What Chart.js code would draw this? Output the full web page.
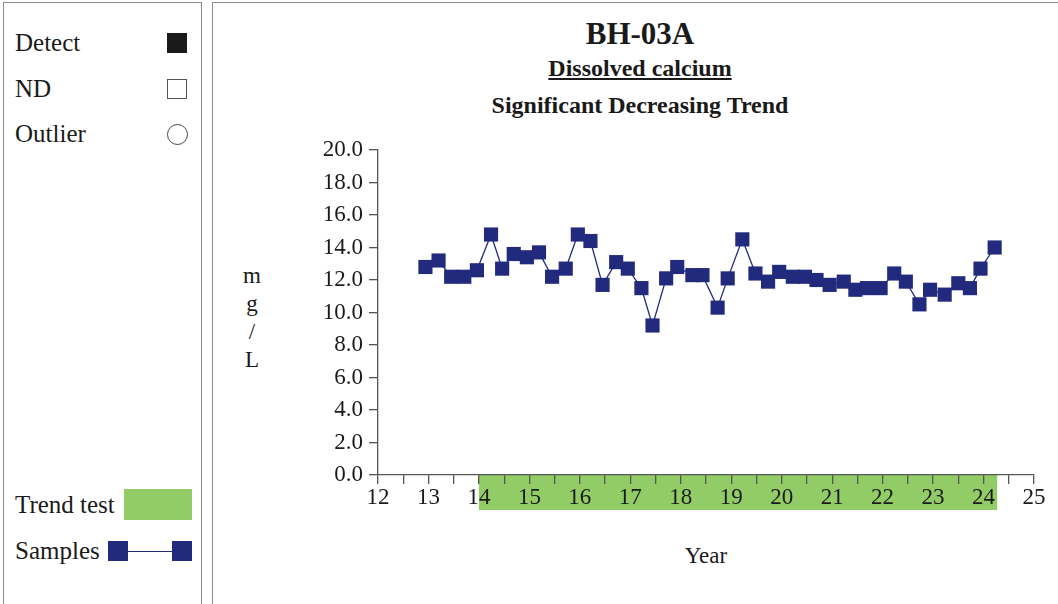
<!DOCTYPE html>
<html>
<head>
<meta charset="utf-8">
<script src="https://cdn.jsdelivr.net/npm/chart.js@4.4.1/dist/chart.umd.min.js"></script>
<style>
  body { margin: 0; width: 1058px; height: 604px; position: relative; overflow: hidden; background: #fff; font-family: 'Liberation Serif', 'Times New Roman', serif; color: #1a1a1a; }
  .panel { position: absolute; top: 2px; height: 640px; border: 1.5px solid #8a8a8a; border-bottom: none; }
  #left-panel { left: 3px; width: 197px; }
  #right-panel { left: 212px; width: 900px; }
  .leg { position: absolute; left: 15px; font-size: 25px; height: 30px; line-height: 30px; }
  .mark { position: absolute; box-sizing: border-box; }
  .title { position: absolute; left: 213px; width: 854px; text-align: center; font-weight: bold; }
  #chart-wrap { position: absolute; left: 0; top: 0; width: 1058px; height: 604px; }
</style>
</head>
<body>
<div class="panel" id="left-panel"></div>
<div class="panel" id="right-panel"></div>

<div class="leg" style="top:28px">Detect</div>
<div class="mark" style="left:167px;top:33px;width:20px;height:20px;background:#1a1a1a"></div>
<div class="leg" style="top:74px">ND</div>
<div class="mark" style="left:167px;top:79px;width:20px;height:20px;border:1px solid #555;background:#fff"></div>
<div class="leg" style="top:119px">Outlier</div>
<div class="mark" style="left:167px;top:124px;width:21px;height:21px;border:1px solid #444;border-radius:50%;background:#fff"></div>

<div class="leg" style="top:490px">Trend test</div>
<div class="mark" style="left:124px;top:489px;width:68px;height:31px;background:#92cc67"></div>
<div class="leg" style="top:536px">Samples</div>
<div class="mark" style="left:108px;top:541px;width:20px;height:20px;background:#212a7c"></div>
<div class="mark" style="left:128px;top:551px;width:44px;height:1px;background:#212a7c"></div>
<div class="mark" style="left:172px;top:541px;width:20px;height:20px;background:#212a7c"></div>

<div class="title" style="top:16px;font-size:31px;line-height:36px">BH-03A</div>
<div class="title" style="top:54px;font-size:24px;line-height:28px;text-decoration:underline">Dissolved calcium</div>
<div class="title" style="top:91px;font-size:24px;line-height:28px">Significant Decreasing Trend</div>

<div style="position:absolute;left:232px;top:262px;width:40px;text-align:center;font-size:23px;line-height:28px">m<br>g<br>/<br>L</div>
<div style="position:absolute;left:646px;top:541px;width:120px;text-align:center;font-size:23px;line-height:30px">Year</div>

<div id="chart-wrap"><canvas id="chart" width="1058" height="604"></canvas></div>

<script>
  // sample dates (decimal year, 2-digit) and dissolved calcium, mg/L
  const sampleYears = [
    12.94, 13.20, 13.45, 13.71, 13.96, 14.24, 14.46, 14.69, 14.95, 15.19,
    15.45, 15.72, 15.96, 16.21, 16.45, 16.72, 16.95, 17.22, 17.44, 17.71,
    17.93, 18.23, 18.43, 18.73, 18.93, 19.22, 19.48, 19.73, 19.95, 20.22,
    20.46, 20.69, 20.95, 21.23, 21.46, 21.69, 21.96, 22.23, 22.46, 22.73,
    22.94, 23.23, 23.50, 23.73, 23.94, 24.22,
  ];
  const calciumValues = [
    12.8, 13.2, 12.2, 12.2, 12.6, 14.8, 12.7, 13.6, 13.4, 13.7,
    12.2, 12.7, 14.8, 14.4, 11.7, 13.1, 12.7, 11.5, 9.2, 12.1,
    12.8, 12.3, 12.3, 10.3, 12.1, 14.5, 12.4, 11.9, 12.5, 12.2,
    12.2, 12.0, 11.7, 11.9, 11.4, 11.5, 11.5, 12.4, 11.9, 10.5,
    11.4, 11.1, 11.8, 11.5, 12.7, 14.0,
  ];
  const xRange = [12, 25];
  const yRange = [0, 20];
  const trendTestRange = [14.0, 24.27];

  const navy = '#212a7c';
  const green = '#92cc67';
  const axisFont = { family: "'Liberation Serif', serif", size: 23 };

  const trendBar = {
    id: 'trendBar',
    beforeDraw(chart) {
      const { ctx, scales } = chart;
      const x0 = scales.x.getPixelForValue(trendTestRange[0]);
      const x1 = scales.x.getPixelForValue(trendTestRange[1]);
      const top = scales.y.bottom;
      ctx.save();
      ctx.fillStyle = green;
      ctx.fillRect(x0, top, x1 - x0, 35);
      ctx.restore();
    },
  };

  new Chart(document.getElementById('chart'), {
    type: 'line',
    data: {
      datasets: [
        {
          data: sampleYears.map((x, i) => ({ x, y: calciumValues[i] })),
          borderColor: navy,
          borderWidth: 1.3,
          backgroundColor: navy,
          pointStyle: 'rect',
          pointRadius: 10,
          pointBorderWidth: 0,
          pointBackgroundColor: navy,
          tension: 0,
        },
      ],
    },
    options: {
      responsive: false,
      animation: false,
      devicePixelRatio: 1,
      layout: { padding: { top: 150, right: 24, left: 0, bottom: 0 } },
      plugins: { legend: { display: false }, tooltip: { enabled: false } },
      scales: {
        x: {
          type: 'linear',
          min: xRange[0],
          max: xRange[1],
          afterFit: (scale) => { scale.height = 129; },
          border: { color: '#555', width: 1.3 },
          grid: { drawOnChartArea: false, drawTicks: true, tickLength: 9, color: '#555', lineWidth: 1.3 },
          ticks: {
            stepSize: 0.5,
            autoSkip: false,
            maxRotation: 0,
            padding: 0,
            color: '#1a1a1a',
            font: axisFont,
            callback: (v) => (Number.isInteger(v) ? String(v) : ''),
          },
        },
        y: {
          min: yRange[0],
          max: yRange[1],
          afterFit: (scale) => { scale.width = 378; },
          border: { color: '#555', width: 1.3 },
          grid: { drawOnChartArea: false, drawTicks: true, tickLength: 9, color: '#555', lineWidth: 1.3 },
          ticks: {
            stepSize: 2,
            padding: 6,
            color: '#1a1a1a',
            font: axisFont,
            callback: (v) => v.toFixed(1),
          },
        },
      },
    },
    plugins: [trendBar],
  });
</script>
</body>
</html>
